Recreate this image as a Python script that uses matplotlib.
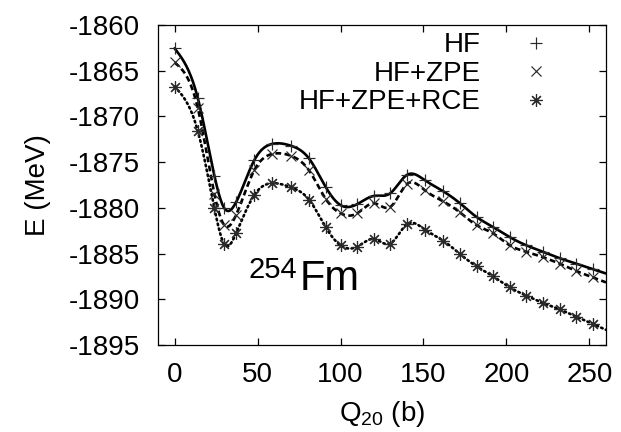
import numpy as np
import matplotlib
matplotlib.use("Agg")
import matplotlib.pyplot as plt

plt.rcParams['font.family'] = ['Liberation Sans', 'DejaVu Sans']
plt.rcParams['axes.unicode_minus'] = False

# ---- data ----
q20 = [0, 14, 24, 30, 37, 48, 59, 70, 81, 91, 100, 110, 120, 130, 140,
       151, 162, 172, 182, 192, 202, 212, 222, 232, 242, 252]
e_hf = [-1862.55, -1868.0, -1876.5, -1880.05, -1879.4, -1874.8, -1873.0,
        -1873.2, -1874.6, -1877.7, -1879.7, -1879.6, -1878.7, -1878.4,
        -1876.4, -1877.0, -1878.2, -1879.5, -1881.0, -1882.1, -1883.2,
        -1884.1, -1884.8, -1885.5, -1886.1, -1886.7]
e_zpe = [-1864.1, -1869.1, -1878.5, -1881.9, -1880.8, -1875.9, -1874.1,
         -1874.3, -1875.9, -1879.0, -1880.6, -1880.6, -1879.5, -1879.9,
         -1877.4, -1878.1, -1879.3, -1880.5, -1881.9, -1882.8, -1884.1,
         -1884.8, -1885.4, -1886.1, -1886.9, -1887.6]
e_rce = [-1866.75, -1871.6, -1880.05, -1884.0, -1882.8, -1878.6, -1877.3,
         -1877.75, -1879.1, -1882.1, -1884.1, -1884.25, -1883.4, -1883.9,
         -1881.8, -1882.4, -1883.6, -1885.05, -1886.4, -1887.5, -1888.7,
         -1889.6, -1890.4, -1891.1, -1891.9, -1892.7]
labels = ['HF', 'HF+ZPE', 'HF+ZPE+RCE']
xticks = [0, 50, 100, 150, 200, 250]
yticks = [-1895, -1890, -1885, -1880, -1875, -1870, -1865, -1860]


def natural_spline(x, y, xs):
    x = np.asarray(x, float)
    y = np.asarray(y, float)
    n = len(x)
    h = np.diff(x)
    A = np.zeros((n, n))
    b = np.zeros(n)
    A[0, 0] = 1
    A[-1, -1] = 1
    for i in range(1, n - 1):
        A[i, i - 1] = h[i - 1]
        A[i, i] = 2 * (h[i - 1] + h[i])
        A[i, i + 1] = h[i]
        b[i] = 3 * ((y[i + 1] - y[i]) / h[i] - (y[i] - y[i - 1]) / h[i - 1])
    c = np.linalg.solve(A, b)
    bb = (np.diff(y) / h) - h * (2 * c[:-1] + c[1:]) / 3
    d = np.diff(c) / (3 * h)
    idx = np.clip(np.searchsorted(x, xs) - 1, 0, n - 2)
    dx = xs - x[idx]
    return y[idx] + bb[idx] * dx + c[idx] * dx ** 2 + d[idx] * dx ** 3


fig = plt.figure(figsize=(6.21, 4.32), dpi=100)
ax = fig.add_axes([158 / 621, 87 / 432, 448 / 621, 320 / 432])

xs = np.linspace(q20[0], 260, 800)
ax.plot(xs, natural_spline(q20, e_hf, xs), color='black', lw=1.9, solid_capstyle='round')
ax.plot(xs, natural_spline(q20, e_zpe, xs), color='black', lw=1.9, dashes=(2.2, 1.3))
ax.plot(xs, natural_spline(q20, e_rce, xs), color='black', lw=1.9,
        linestyle=(0, (0.6, 1.3)), dash_capstyle='round')

mk = dict(color='#2a2a2a', linestyle='none', markersize=9, markeredgewidth=0.85)
ax.plot(q20, e_hf, marker='+', label=labels[0], **mk)
ax.plot(q20, e_zpe, marker='x', label=labels[1], markersize=7.5,
        color='#2a2a2a', linestyle='none', markeredgewidth=0.85)
ax.plot(q20, e_rce, marker=(8, 2, 0), label=labels[2], **mk)

ax.set_xlim(-10, 260)
ax.set_ylim(-1895, -1860)
ax.set_xticks(xticks)
ax.set_yticks(yticks)
ax.tick_params(direction='in', length=5, width=0.9, top=True, right=True,
               labelsize=20)
ax.tick_params(axis='x', pad=12)
ax.tick_params(axis='y', pad=13)
for s in ax.spines.values():
    s.set_linewidth(0.9)

ax.set_xlabel('$\\mathregular{Q_{20}}$ (b)', fontsize=20, labelpad=8)
ax.set_ylabel('E (MeV)', fontsize=20, labelpad=13)

leg = ax.legend(loc='upper right', bbox_to_anchor=(0.906, 0.977),
                markerfirst=False, frameon=False,
                fontsize=20, handlelength=2.0, handletextpad=1.0,
                labelspacing=0.09, borderaxespad=0.0, borderpad=0.0)

ax.text(0.201, 0.209, '254', transform=ax.transAxes, fontsize=21,
        va='baseline', ha='left')
ax.text(0.317, 0.172, 'Fm', transform=ax.transAxes, fontsize=30,
        va='baseline', ha='left')

fig.savefig('out.png', dpi=100)
